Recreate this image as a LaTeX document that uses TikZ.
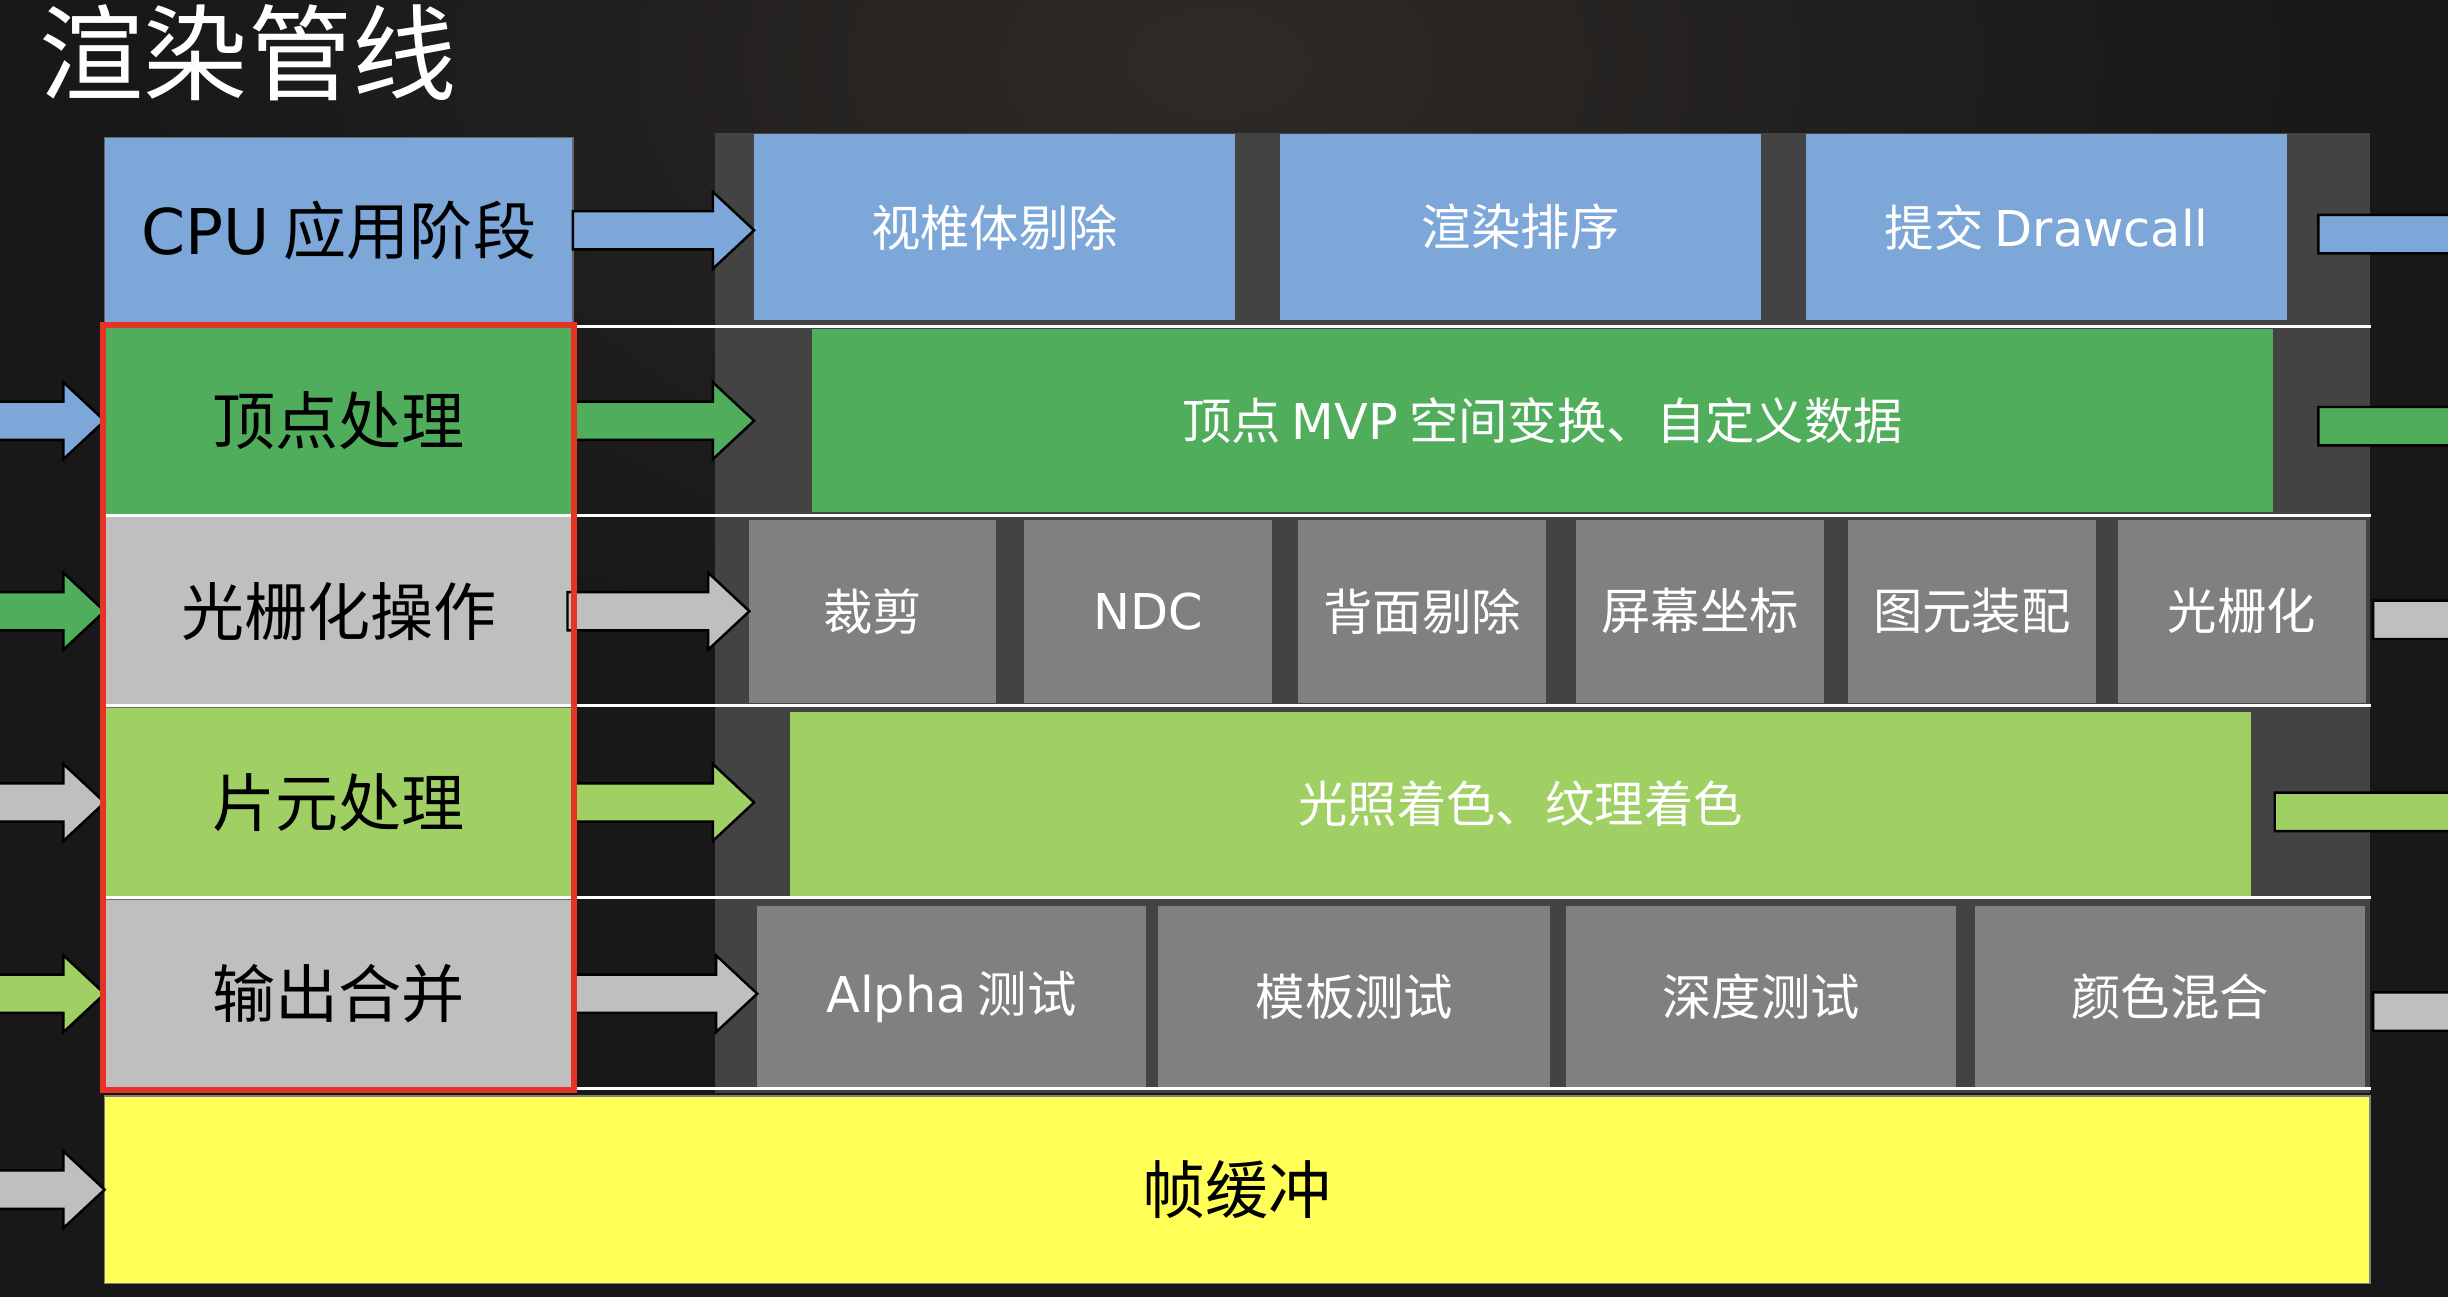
\documentclass[tikz,border=0pt]{standalone}
\usepackage{fontspec}
\setmainfont{Noto Sans CJK SC}
\newfontfamily\latin{DejaVu Sans}
\usetikzlibrary{calc,fit}

\definecolor{bgdark}{HTML}{181818}
\definecolor{bgglow}{HTML}{2E2A27}
\definecolor{panelgrey}{HTML}{434343}
\definecolor{cpublue}{HTML}{7CA7D8}
\definecolor{vertgreen}{HTML}{4FAD5B}
\definecolor{opgrey}{HTML}{BFBFBF}
\definecolor{fraggreen}{HTML}{A0CF63}
\definecolor{stepgrey}{HTML}{808080}
\definecolor{fbyellow}{HTML}{FFFF57}
\definecolor{framered}{HTML}{E63323}

\tikzset{
  sz/.style 2 args={minimum width=#1*0.02cm, minimum height=#2*0.02cm},
  stage/.style={rectangle, inner sep=0pt, outer sep=0pt, draw=black!60, line width=0.4pt,
    text=black, font=\fontsize{23}{27}\selectfont},
  substep/.style={rectangle, inner sep=0pt, outer sep=0pt, text=white,
    font=\fontsize{18}{22}\selectfont},
  blockarrow/.style={draw=black, line width=0.9pt, line join=miter},
  sepline/.style={white, line width=1pt}
}

% fat arrow: colour, tail, tip (tip only gives x)
\newcommand{\fatarrow}[3]{%
  \draw[blockarrow, fill=#1] let \p1=(#2), \p2=(#3) in
    (\x1,\y1+7pt) -- (\x2-15pt,\y1+7pt) -- (\x2-15pt,\y1+14pt) -- (\x2,\y1)
    -- (\x2-15pt,\y1-14pt) -- (\x2-15pt,\y1-7pt) -- (\x1,\y1-7pt) -- cycle;}

\begin{document}
\begin{tikzpicture}[x=0.02cm, y=-0.02cm]
  \useasboundingbox (0,0) rectangle (1568,831);
  \clip (0,0) rectangle (1568,831);

  % background
  \fill[bgdark] (0,0) rectangle (1568,831);
  \shade[inner color=bgglow, outer color=bgdark] (780,40) ellipse [x radius=700, y radius=420];

  \node[anchor=base west, inner sep=0pt, text=white, font=\fontsize{38}{44}\selectfont] (title) at (25,59) {渲染管线};

  \node[fill=panelgrey, inner sep=0pt, sz={1060}{615}] (panel) at (988,392.5) {};

  % left column
  \node[stage, fill=cpublue, sz={300}{119}] (cpu) at (217,147.5) {{\latin CPU} 应用阶段};
  \node[stage, fill=vertgreen, sz={300}{121}] (vertex) at (217,269.5) {顶点处理};
  \node[stage, fill=opgrey, sz={300}{121}] (raster) at (217,391.5) {光栅化操作};
  \node[stage, fill=fraggreen, sz={300}{122}] (frag) at (217,514) {片元处理};
  \node[stage, fill=opgrey, sz={300}{121}] (merge) at (217,636.5) {输出合并};
  \node[stage, draw=black!50, fill=fbyellow, sz={1451}{120}] (fb) at (792.5,762) {帧缓冲};

  % application stage
  \node[substep, fill=cpublue, sz={308}{119}] (cull) at (637,145.5) {视椎体剔除};
  \node[substep, fill=cpublue, sz={308}{119}] (sort) at (974,145.5) {渲染排序};
  \node[substep, fill=cpublue, sz={308}{119}] (submit) at (1311,145.5) {提交 {\latin Drawcall}};

  % vertex
  \node[substep, fill=vertgreen, sz={936}{117}] (mvp) at (988,269.5) {顶点 {\latin MVP} 空间变换、自定义数据};

  % raster
  \node[substep, fill=stepgrey, sz={158}{117}] (clip) at (559,391.5) {裁剪};
  \node[substep, fill=stepgrey, sz={159}{117}] (ndc) at (735.5,391.5) {{\latin NDC}};
  \node[substep, fill=stepgrey, sz={159}{117}] (backface) at (911,391.5) {背面剔除};
  \node[substep, fill=stepgrey, sz={159}{117}] (screen) at (1089,391.5) {屏幕坐标};
  \node[substep, fill=stepgrey, sz={159}{117}] (assembly) at (1263,391.5) {图元装配};
  \node[substep, fill=stepgrey, sz={159}{117}] (rasterize) at (1436,391.5) {光栅化};

  % fragment
  \node[substep, fill=fraggreen, sz={936}{118}] (shading) at (974,515) {光照着色、纹理着色};

  % output merge
  \node[substep, fill=stepgrey, sz={249}{117}] (alpha) at (609.5,638.5) {{\latin Alpha} 测试};
  \node[substep, fill=stepgrey, sz={251}{117}] (stencil) at (867.5,638.5) {模板测试};
  \node[substep, fill=stepgrey, sz={250}{117}] (depth) at (1128,638.5) {深度测试};
  \node[substep, fill=stepgrey, sz={250}{117}] (blend) at (1390,638.5) {颜色混合};

  % separators
  \foreach \r in {vertex,raster,frag}
    \draw[sepline] (\r.south west) -- (\r.south west -| panel.east);
  \draw[sepline] (vertex.north east) -- (vertex.north east -| panel.east);
  \draw[sepline] (merge.south east) -- (merge.south east -| panel.east);

  % arrows into the steps
  \fatarrow{cpublue}{cpu.east}{cull.west}
  \fatarrow{vertgreen}{vertex.east}{vertex.east -| cull.west}
  \fatarrow{opgrey}{[xshift=-2pt]raster.east}{clip.west}
  \fatarrow{fraggreen}{frag.east}{frag.east -| cull.west}
  \fatarrow{opgrey}{merge.east}{alpha.west}

  % arrows coming in from the left
  \coordinate (src) at (-40,0);
  \fatarrow{cpublue}{vertex.west -| src}{vertex.west}
  \fatarrow{vertgreen}{raster.west -| src}{raster.west}
  \fatarrow{opgrey}{frag.west -| src}{frag.west}
  \fatarrow{fraggreen}{merge.west -| src}{merge.west}
  \fatarrow{opgrey}{fb.west -| src}{fb.west}

  % arrows leaving on the right
  \coordinate (sink) at (1700,0);
  \coordinate (cpuout) at (1485,150);
  \coordinate (vertout) at (1485,273);
  \coordinate (rastout) at (1520,397);
  \coordinate (fragout) at (1457,520);
  \coordinate (mergeout) at (1520,648);
  \fatarrow{cpublue}{cpuout}{cpuout -| sink}
  \fatarrow{vertgreen}{vertout}{vertout -| sink}
  \fatarrow{opgrey}{rastout}{rastout -| sink}
  \fatarrow{fraggreen}{fragout}{fragout -| sink}
  \fatarrow{opgrey}{mergeout}{mergeout -| sink}

  % GPU stages
  \node[draw=framered, line width=2.2pt, inner sep=0.5pt, fit=(vertex)(merge)] (gpu) {};
\end{tikzpicture}
\end{document}
